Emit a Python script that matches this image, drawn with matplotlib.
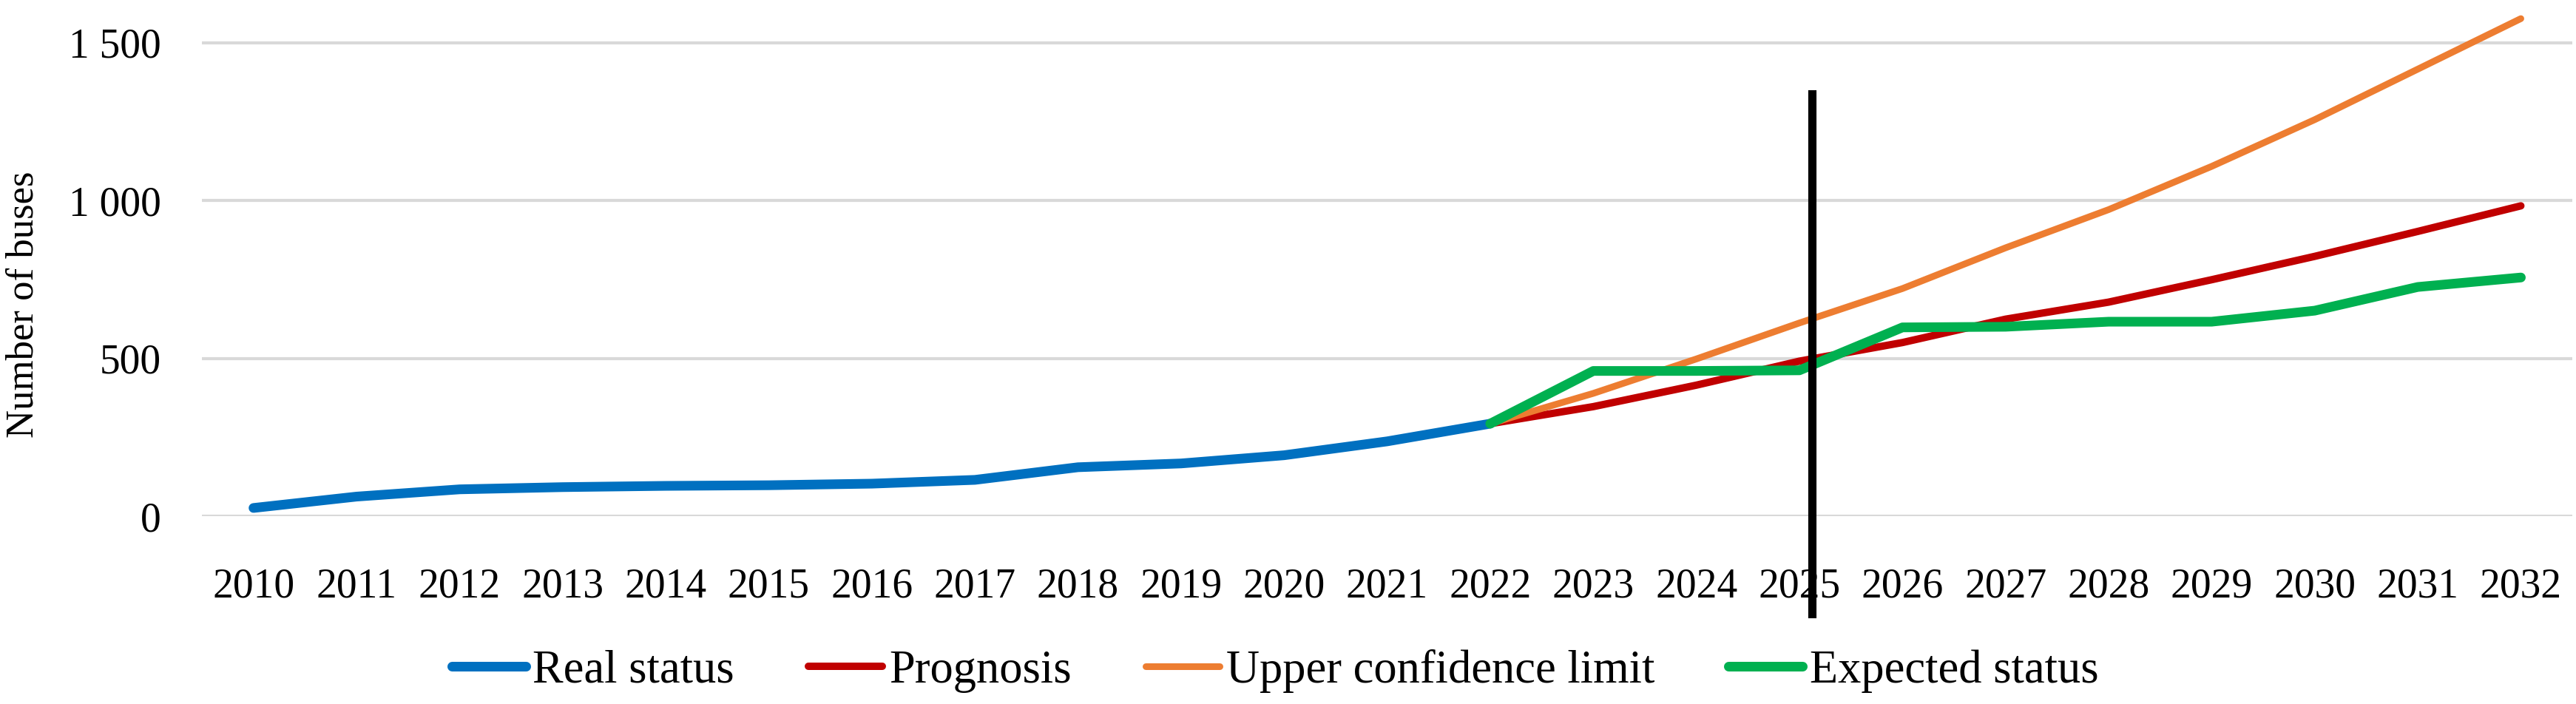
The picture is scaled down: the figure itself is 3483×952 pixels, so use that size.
import matplotlib.pyplot as plt
from matplotlib.ticker import FuncFormatter

plt.rcParams['font.family'] = ['Liberation Serif', 'DejaVu Serif']

years = list(range(2010, 2033))
real_years = list(range(2010, 2023))
real_status = [26, 62, 85, 92, 96, 98, 103, 115, 155, 167, 193, 237, 293]

fc_years = list(range(2022, 2033))
prognosis = [293, 347, 415, 491, 550, 624, 678, 749, 823, 902, 983]
upper_limit = [293, 389, 498, 612, 721, 850, 971, 1108, 1256, 1416, 1576]
expected = [293, 460, 460, 462, 598, 600, 616, 616, 651, 726, 756]

marker_x = 2025.125
marker_y = [-310, 1337]

fig = plt.figure(figsize=(34.83, 9.52), dpi=100)
ax = fig.add_axes([0.0784, 0.2668, 0.9202, 0.7332])

kw = dict(solid_capstyle='round', solid_joinstyle='round', clip_on=False)
ax.plot(real_years, real_status, color='#0070C0', lw=9.4, label='Real status', **kw)
ax.plot(fc_years, prognosis, color='#C00000', lw=7.2, label='Prognosis', **kw)
ax.plot(fc_years, upper_limit, color='#ED7D31', lw=6.5, label='Upper confidence limit', **kw)
ax.plot(fc_years, expected, color='#00B050', lw=9.4, label='Expected status', **kw)
ax.plot([marker_x, marker_x], marker_y, color='black', lw=8, clip_on=False, zorder=5)

ax.set_xlim(2009.5, 2032.5)
ax.set_ylim(0, 1635)
ax.set_xticks(years)
ax.set_xticklabels([str(y) for y in years])
ax.set_yticks([0, 500, 1000, 1500])
ax.yaxis.set_major_formatter(FuncFormatter(lambda v, p: f"{int(v):,}".replace(",", " ")))
ax.tick_params(axis='both', length=0, labelsize=40)
ax.tick_params(axis='x', pad=50)
ax.tick_params(axis='y', pad=40)
ax.grid(axis='y', color='#d9d9d9', lw=3)
ax.set_axisbelow(True)
for s in ax.spines.values():
    s.set_visible(False)

ax.set_ylabel('Number of buses', fontsize=38)
ax.yaxis.set_label_coords(-0.068, 0.41)

fig.legend(loc='center', bbox_to_anchor=(0.495, 0.047), ncol=4, frameon=False,
           fontsize=45, handlelength=1.6, handletextpad=0.15, columnspacing=1.6)

fig.savefig('out.png', dpi=100)
